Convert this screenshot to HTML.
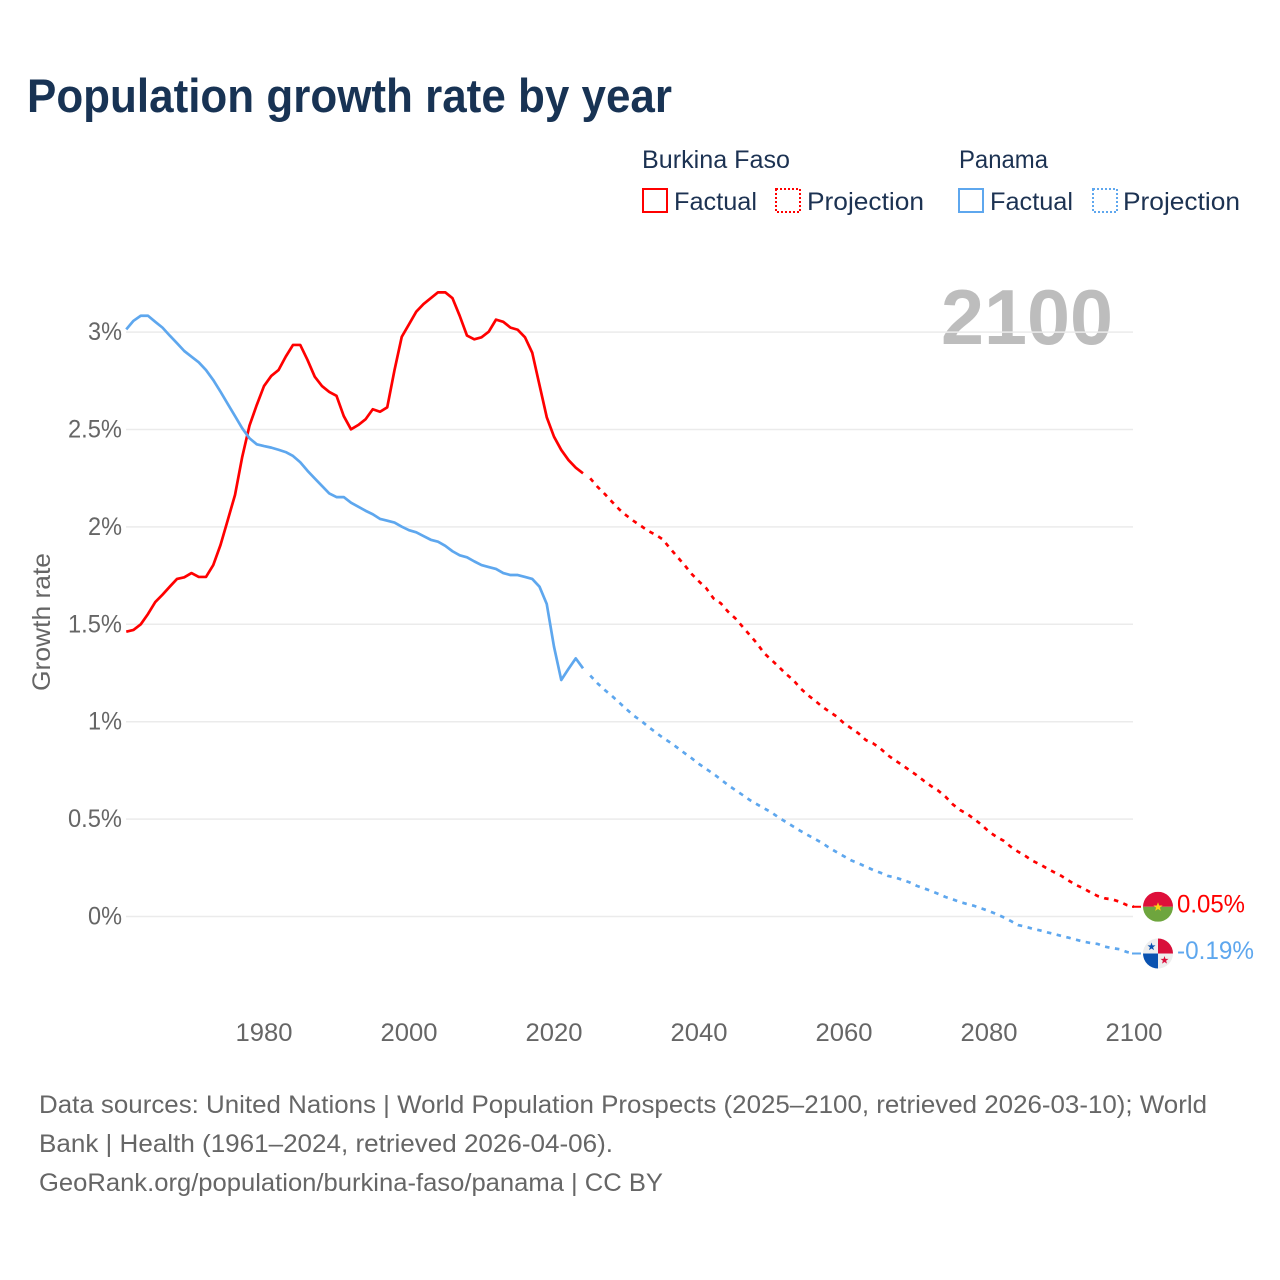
<!DOCTYPE html>
<html lang="en">
<head>
<meta charset="utf-8">
<title>Population growth rate by year</title>
<style>
html,body{margin:0;padding:0;background:#fff;}
svg{display:block;font-family:"Liberation Sans",sans-serif;}
</style>
</head>
<body>
<svg id="chart" xmlns="http://www.w3.org/2000/svg" width="1280" height="1280" viewBox="0 0 1280 1280">
  <rect x="0" y="0" width="1280" height="1280" fill="#ffffff"/>
  <text x="27" y="112" font-size="47" font-weight="700" fill="#183354" textLength="645" lengthAdjust="spacingAndGlyphs">Population growth rate by year</text>

  <g font-size="25" fill="#1c3252">
    <text x="642" y="168" textLength="148" lengthAdjust="spacingAndGlyphs">Burkina Faso</text>
    <text x="959" y="168" textLength="89" lengthAdjust="spacingAndGlyphs">Panama</text>
    <rect x="643" y="189" width="24" height="23" fill="none" stroke="#ff0000" stroke-width="2"/>
    <text x="674" y="210" textLength="83" lengthAdjust="spacingAndGlyphs">Factual</text>
    <rect x="776" y="189" width="24" height="23" fill="none" stroke="#ff0000" stroke-width="2" stroke-dasharray="2 2"/>
    <text x="807" y="210" textLength="117" lengthAdjust="spacingAndGlyphs">Projection</text>
    <rect x="959" y="189" width="24" height="23" fill="none" stroke="#5ea7ee" stroke-width="2"/>
    <text x="990" y="210" textLength="83" lengthAdjust="spacingAndGlyphs">Factual</text>
    <rect x="1093" y="189" width="24" height="23" fill="none" stroke="#5ea7ee" stroke-width="2" stroke-dasharray="2 2"/>
    <text x="1123" y="210" textLength="117" lengthAdjust="spacingAndGlyphs">Projection</text>
  </g>

  <text x="941" y="344" font-size="78" font-weight="700" fill="#bdbdbd" textLength="172" lengthAdjust="spacingAndGlyphs">2100</text>

  <text transform="translate(50,691) rotate(-90)" font-size="25" fill="#666666" textLength="138" lengthAdjust="spacingAndGlyphs">Growth rate</text>

  <g id="grid"></g>
  <g id="yticks"></g>
  <g id="xticks"></g>
  <g id="series"></g>

  <g id="flag-burkina">
    <clipPath id="clip-bf"><circle cx="0" cy="0" r="15"/></clipPath>
    <g clip-path="url(#clip-bf)">
      <rect x="-15" y="-15" width="30" height="15" fill="#de0f3a"/>
      <rect x="-15" y="0" width="30" height="15" fill="#6ea53e"/>
    </g>
    <polygon points="0,-4.5 1.2,-1.2 4.6,-1.2 1.9,0.9 2.9,4.1 0,2.2 -2.9,4.1 -1.9,0.9 -4.6,-1.2 -1.2,-1.2" fill="#fcd116"/>
  </g>
  <g id="flag-panama">
    <clipPath id="clip-pa"><circle cx="0" cy="0" r="15"/></clipPath>
    <g clip-path="url(#clip-pa)">
      <rect x="-15" y="-15" width="30" height="30" fill="#eeeeee"/>
      <rect x="0" y="-15" width="15" height="15" fill="#d90f3a"/>
      <rect x="-15" y="0" width="15" height="15" fill="#0a52b0"/>
    </g>
    <polygon transform="translate(-6.5,-7)" points="0,-4 1,-1.1 4,-1.1 1.6,0.8 2.5,3.6 0,2 -2.5,3.6 -1.6,0.8 -4,-1.1 -1,-1.1" fill="#0a52b0"/>
    <polygon transform="translate(6.5,6.5)" points="0,-4 1,-1.1 4,-1.1 1.6,0.8 2.5,3.6 0,2 -2.5,3.6 -1.6,0.8 -4,-1.1 -1,-1.1" fill="#d90f3a"/>
  </g>
  <text id="label-burkina" x="1177" font-size="25" fill="#ff0000" textLength="68" lengthAdjust="spacingAndGlyphs"></text>
  <text id="label-panama" x="1177" font-size="25" fill="#5ea7ee" textLength="77" lengthAdjust="spacingAndGlyphs"></text>

  <g font-size="25" fill="#666666">
    <text x="39" y="1113" textLength="1168" lengthAdjust="spacingAndGlyphs">Data sources: United Nations | World Population Prospects (2025–2100, retrieved 2026-03-10); World</text>
    <text x="39" y="1152" textLength="574" lengthAdjust="spacingAndGlyphs">Bank | Health (1961–2024, retrieved 2026-04-06).</text>
    <text x="39" y="1191" textLength="624" lengthAdjust="spacingAndGlyphs">GeoRank.org/population/burkina-faso/panama | CC BY</text>
  </g>
</svg>
<script>
const factualStartYear = 1961;
const projectionStartYear = 2025;
const xTickYears = [1980, 2000, 2020, 2040, 2060, 2080, 2100];
const yTickValues = [0, 0.5, 1, 1.5, 2, 2.5, 3];
const yTickLabels = ["0%", "0.5%", "1%", "1.5%", "2%", "2.5%", "3%"];

const burkinaFactual = [
  1.462,1.471,1.500,1.553,1.614,1.652,1.693,1.733,1.741,1.763,
  1.743,1.743,1.804,1.907,2.035,2.164,2.360,2.520,2.626,2.723,
  2.775,2.805,2.874,2.934,2.934,2.857,2.771,2.723,2.693,2.673,
  2.569,2.501,2.523,2.552,2.604,2.591,2.614,2.805,2.976,3.040,
  3.105,3.144,3.174,3.204,3.204,3.174,3.083,2.982,2.963,2.973,
  3.002,3.064,3.053,3.023,3.012,2.973,2.894,2.728,2.563,2.463,
  2.395,2.343,2.304,2.275
];
const burkinaProjection = [
  2.249,2.206,2.169,2.129,2.090,2.058,2.030,2.005,1.979,1.960,
  1.936,1.890,1.847,1.804,1.758,1.720,1.685,1.633,1.608,1.565,
  1.531,1.488,1.445,1.402,1.351,1.317,1.282,1.245,1.214,1.171,
  1.137,1.108,1.077,1.051,1.026,0.992,0.966,0.940,0.906,0.889,
  0.863,0.829,0.803,0.778,0.752,0.726,0.697,0.670,0.646,0.615,
  0.576,0.547,0.526,0.499,0.470,0.435,0.410,0.389,0.358,0.333,
  0.311,0.286,0.268,0.247,0.227,0.208,0.184,0.162,0.145,0.124,
  0.105,0.093,0.088,0.076,0.059,0.05
];
const panamaFactual = [
  3.014,3.058,3.084,3.084,3.053,3.023,2.982,2.943,2.903,2.874,
  2.845,2.805,2.754,2.694,2.631,2.569,2.506,2.455,2.424,2.415,
  2.407,2.396,2.384,2.364,2.332,2.288,2.249,2.210,2.172,2.153,
  2.153,2.124,2.104,2.083,2.065,2.041,2.032,2.022,2.001,1.983,
  1.972,1.953,1.934,1.924,1.903,1.875,1.854,1.844,1.823,1.804,
  1.794,1.784,1.763,1.753,1.753,1.743,1.733,1.693,1.604,1.385,
  1.214,1.271,1.325,1.274
];
const panamaProjection = [
  1.237,1.197,1.163,1.132,1.098,1.064,1.031,1.005,0.974,0.946,
  0.918,0.894,0.867,0.839,0.812,0.783,0.757,0.732,0.704,0.675,
  0.649,0.624,0.598,0.576,0.555,0.534,0.508,0.485,0.462,0.439,
  0.418,0.398,0.377,0.352,0.330,0.309,0.288,0.273,0.256,0.239,
  0.225,0.209,0.201,0.189,0.176,0.158,0.145,0.131,0.116,0.100,
  0.088,0.074,0.064,0.054,0.041,0.028,0.013,-0.004,-0.023,-0.044,
  -0.052,-0.063,-0.071,-0.081,-0.090,-0.100,-0.109,-0.119,-0.129,-0.136,
  -0.141,-0.155,-0.162,-0.168,-0.182,-0.19
];

const NS = "http://www.w3.org/2000/svg";
function xScale(year) { return 1134 - (2100 - year) * 7.25; }
function yScale(value) { return 916.5 - value * 194.8; }

function linePath(values, startYear) {
  return values.map(function (v, i) {
    return (i ? "L" : "M") + xScale(startYear + i).toFixed(2) + " " + yScale(v).toFixed(2);
  }).join(" ");
}

const grid = document.getElementById("grid");
const yTicks = document.getElementById("yticks");
yTickValues.forEach(function (v, i) {
  const gl = document.createElementNS(NS, "line");
  
  
  gl.setAttribute("x1", 126);
  gl.setAttribute("x2", 1133);
  gl.setAttribute("y1", yScale(v));
  gl.setAttribute("y2", yScale(v));
  gl.setAttribute("stroke", "#ebebeb");
  gl.setAttribute("stroke-width", "1.5");
  grid.appendChild(gl);

  const t = document.createElementNS(NS, "text");
  
  
  t.setAttribute("x", 122 - (34 + (yTickLabels[i].length - 2) * 10));
  t.setAttribute("y", yScale(v) + 8);
  t.setAttribute("font-size", "25");
  t.setAttribute("fill", "#666666");
  t.setAttribute("textLength", 34 + (yTickLabels[i].length - 2) * 10);
  t.setAttribute("lengthAdjust", "spacingAndGlyphs");
  t.textContent = yTickLabels[i];
  yTicks.appendChild(t);
});

const xTicks = document.getElementById("xticks");
xTickYears.forEach(function (year) {
  const t = document.createElementNS(NS, "text");
  
  
  t.setAttribute("x", xScale(year) - 28.5);
  t.setAttribute("y", 1041);
  t.setAttribute("font-size", "25");
  t.setAttribute("fill", "#666666");
  t.setAttribute("textLength", "57");
  t.setAttribute("lengthAdjust", "spacingAndGlyphs");
  t.textContent = String(year);
  xTicks.appendChild(t);
});

const seriesGroup = document.getElementById("series");
function addPath(d, color, dashed, name) {
  const p = document.createElementNS(NS, "path");
  
  
  p.setAttribute("d", d);
  p.setAttribute("fill", "none");
  p.setAttribute("stroke", color);
  p.setAttribute("stroke-width", "2.7");
  p.setAttribute("stroke-linejoin", "round");
  if (dashed) p.setAttribute("stroke-dasharray", "4.5 5.5");
  seriesGroup.appendChild(p);
}
const redColor = "#ff0000";
const blueColor = "#5ea7ee";
addPath(linePath(burkinaFactual, factualStartYear), redColor, false, "burkina-faso-factual-line");
addPath(linePath(burkinaProjection, projectionStartYear), redColor, true, "burkina-faso-projection-line");
addPath(linePath(panamaFactual, factualStartYear), blueColor, false, "panama-factual-line");
addPath(linePath(panamaProjection, projectionStartYear), blueColor, true, "panama-projection-line");

function placeEnd(values, color, flagId, labelId, leaderName) {
  const last = values[values.length - 1];
  const y = yScale(last);
  const leader = document.createElementNS(NS, "line");
  
  
  leader.setAttribute("x1", xScale(2100) - 2);
  leader.setAttribute("x2", 1141);
  leader.setAttribute("y1", y);
  leader.setAttribute("y2", y);
  leader.setAttribute("stroke", color);
  leader.setAttribute("stroke-width", "2");
  seriesGroup.appendChild(leader);
  document.getElementById(flagId).setAttribute("transform", "translate(1158," + y.toFixed(2) + ")");
  const lab = document.getElementById(labelId);
  lab.setAttribute("y", (y + 5.5).toFixed(2));
  lab.textContent = last.toFixed(2) + "%";
}
placeEnd(burkinaProjection, redColor, "flag-burkina", "label-burkina", "burkina-faso-leader-line");
placeEnd(panamaProjection, blueColor, "flag-panama", "label-panama", "panama-leader-line");
</script>
</body>
</html>
